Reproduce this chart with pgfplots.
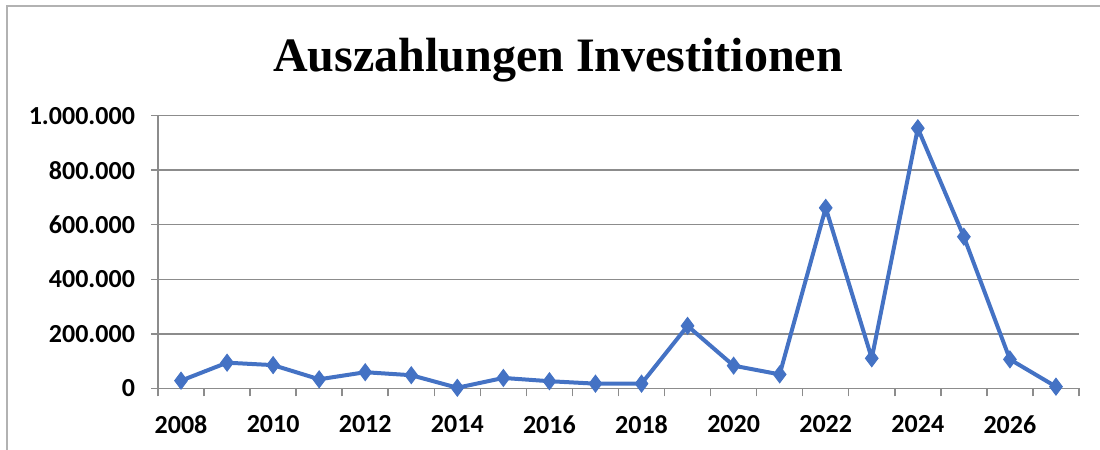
\documentclass[border=0pt]{standalone}
\usepackage{fontspec}
\setmainfont{Carlito}
\newfontfamily\titlefont{Liberation Serif}
\usepackage{pgfplots}
\pgfplotsset{compat=1.18}
\definecolor{excelblue}{HTML}{4472C4}
\definecolor{gridgray}{HTML}{8C8C8C}
\begin{document}
\begin{tikzpicture}
\path[use as bounding box] (0pt,0pt) rectangle (550pt,225pt);
\draw[gray!60, line width=0.75pt] (3.5pt,0pt)--(3.5pt,222pt)--(550pt,222pt);
\node[anchor=base, font=\titlefont\bfseries\fontsize{24}{28}\selectfont] at (279pt,189pt) {Auszahlungen Investitionen};
\begin{axis}[
  at={(79pt,30.85pt)}, anchor=south west,
  scale only axis, width=460.5pt, height=136.3pt,
  xmin=2007.5, xmax=2027.5, ymin=0, ymax=1000000,
  axis x line=bottom, axis y line=left,
  axis line style={-, gridgray, line width=0.75pt},
  xtick={2008,2010,...,2026},
  minor xtick={2007.5,2008.5,...,2027.5},
  major x tick style={draw=none},
  minor x tick style={gridgray, line width=0.75pt},
  minor tick length=4pt,
  ytick={0,200000,...,1000000},
  major tick length=3.5pt,
  tick align=outside,
  ytick style={gridgray, line width=0.75pt},
  ymajorgrids, grid style={gridgray, line width=0.75pt},
  scaled y ticks=false,
  tick label style={font=\bfseries\fontsize{13}{15}\selectfont},
  xticklabel style={/pgf/number format/1000 sep={}, yshift=-6.5pt},
  yticklabel style={/pgf/number format/.cd, 1000 sep={.}, fixed, /tikz/.cd, xshift=-4.5pt},
  /pgf/number format/assume math mode=true,
  clip=false,
]
\addplot[excelblue, line width=2pt, mark=diamond*, mark size=4.2pt, mark options={fill=excelblue, draw=excelblue, line width=0.5pt}] coordinates {
(2008,28000) (2009,94000) (2010,85000) (2011,33000) (2012,59000)
(2013,48000) (2014,2000) (2015,38000) (2016,26000) (2017,17000)
(2018,17000) (2019,229000) (2020,83000) (2021,51000) (2022,662000)
(2023,110000) (2024,954000) (2025,556000) (2026,106000) (2027,6000)
};
\end{axis}
\end{tikzpicture}
\end{document}
